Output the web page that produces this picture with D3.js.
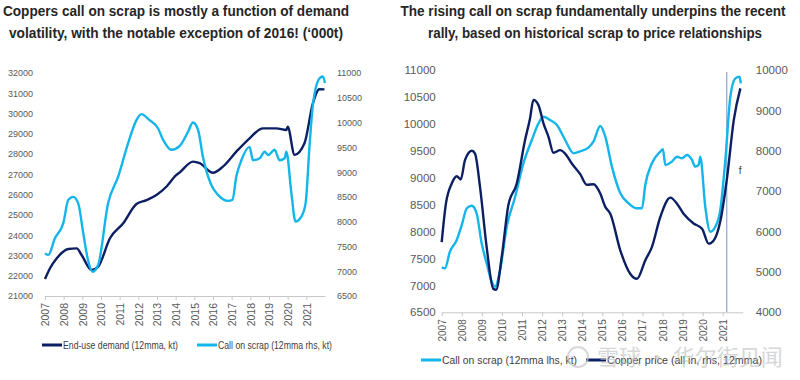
<!DOCTYPE html>
<html>
<head>
<meta charset="utf-8">
<script src="https://cdn.jsdelivr.net/npm/d3@7"></script>
<style>
  body { margin: 0; background: #fff; }
  svg { display: block; }
  .title { font-family: "Liberation Sans", Arial, sans-serif; font-weight: bold; font-size: 14.5px; fill: #262626; }
  .tick text { font-family: "Liberation Sans", Arial, sans-serif; fill: #595959; }
  .legend { font-family: "Liberation Sans", Arial, sans-serif; font-size: 10.5px; fill: #404040; }
</style>
</head>
<body>
<div id="chart"></div>
<script>
// ---- data ----
var years = [2007, 2008, 2009, 2010, 2011, 2012, 2013, 2014, 2015, 2016, 2017, 2018, 2019, 2020, 2021];

// left panel, end-use demand (kt, lhs)
var demandDates = [2007.0, 2007.27, 2007.63, 2008.25, 2008.7, 2008.96, 2009.5, 2009.85, 2010.48, 2011.19, 2011.9, 2012.44, 2012.97, 2013.5, 2014.04, 2014.22, 2014.93, 2015.29, 2016.0, 2016.53, 2017.25, 2017.96, 2018.67, 2019.39, 2019.93, 2020.0, 2020.37, 2020.9, 2021.35, 2021.7, 2021.97];
var demandKt = [21840, 22370, 22860, 23320, 23350, 23020, 22280, 22450, 23850, 24590, 25540, 25730, 25980, 26390, 26970, 27100, 27630, 27550, 27080, 27380, 28120, 28780, 29270, 29270, 29190, 29350, 27960, 28530, 30500, 31200, 31190];

// left panel, call on scrap (kt, rhs)
var scrapDatesL = [2007.0, 2007.18, 2007.53, 2007.98, 2008.25, 2008.51, 2008.78, 2009.05, 2009.3, 2009.55, 2009.85, 2010.38, 2010.92, 2011.45, 2011.9, 2012.16, 2012.6, 2013.06, 2013.33, 2013.77, 2014.22, 2014.67, 2014.93, 2015.2, 2015.46, 2015.91, 2016.27, 2016.8, 2017.04, 2017.25, 2017.52, 2017.96, 2018.14, 2018.5, 2018.77, 2018.95, 2019.3, 2019.57, 2019.84, 2019.93, 2020.2, 2020.42, 2020.73, 2020.96, 2021.18, 2021.35, 2021.7, 2021.88, 2022.0];
var scrapKtL = [7360, 7330, 7665, 7970, 8440, 8500, 8370, 7765, 7230, 6990, 7130, 8370, 8910, 9580, 10050, 10170, 10050, 9880, 9650, 9450, 9530, 9820, 10000, 9850, 9310, 8740, 8540, 8420, 8440, 8910, 9240, 9510, 9240, 9280, 9410, 9345, 9450, 9240, 9280, 9410, 8570, 8000, 8100, 8370, 9580, 10350, 10890, 10930, 10800];

// right panel, call on scrap (kt, lhs)
var scrapDatesR = [2007.0, 2007.16, 2007.41, 2007.75, 2008.0, 2008.25, 2008.5, 2008.74, 2008.99, 2009.24, 2009.49, 2009.66, 2009.91, 2010.24, 2010.66, 2011.07, 2011.49, 2011.82, 2012.07, 2012.4, 2012.74, 2013.15, 2013.57, 2013.9, 2014.31, 2014.56, 2014.9, 2015.15, 2015.48, 2015.9, 2016.31, 2016.73, 2016.98, 2017.14, 2017.47, 2017.89, 2018.02, 2018.14, 2018.47, 2018.72, 2018.97, 2019.22, 2019.47, 2019.63, 2019.8, 2019.88, 2020.13, 2020.38, 2020.63, 2020.88, 2021.13, 2021.38, 2021.63, 2021.84, 2021.9];
var scrapKtR = [7335, 7317, 7626, 7843, 8122, 8432, 8480, 8339, 7782, 7410, 7069, 6976, 7286, 8090, 8647, 9267, 9700, 10010, 10133, 10071, 9979, 9700, 9453, 9490, 9560, 9669, 9960, 9762, 9205, 8710, 8525, 8432, 8432, 8865, 9267, 9484, 9527, 9236, 9298, 9390, 9360, 9422, 9329, 9205, 9236, 9390, 8462, 7997, 8090, 8400, 9329, 10504, 10845, 10876, 10753];

// right panel, copper price (all in, rhs)
var priceDates = [2007.0, 2007.21, 2007.5, 2007.75, 2007.95, 2008.16, 2008.5, 2008.66, 2008.91, 2009.24, 2009.57, 2009.71, 2009.99, 2010.32, 2010.74, 2011.15, 2011.4, 2011.57, 2011.82, 2012.07, 2012.32, 2012.57, 2012.9, 2013.15, 2013.48, 2013.9, 2014.23, 2014.56, 2014.9, 2015.15, 2015.4, 2015.9, 2016.39, 2016.73, 2017.14, 2017.47, 2017.89, 2018.39, 2018.72, 2019.05, 2019.55, 2019.97, 2020.3, 2020.55, 2020.89, 2021.22, 2021.55, 2021.88];
var priceUsd = [5740, 6690, 7190, 7370, 7290, 7770, 8000, 7930, 7100, 5615, 4580, 4560, 5370, 6650, 7190, 8260, 8800, 9260, 9130, 8680, 8345, 7950, 8015, 7930, 7685, 7420, 7160, 7170, 6940, 6610, 6440, 5530, 4955, 4830, 5285, 5615, 6360, 6840, 6690, 6440, 6200, 6070, 5700, 5780, 6280, 7350, 8760, 9545];

var leftTicksL = [21000, 22000, 23000, 24000, 25000, 26000, 27000, 28000, 29000, 30000, 31000, 32000];
var rightTicksL = [6500, 7000, 7500, 8000, 8500, 9000, 9500, 10000, 10500, 11000];
var leftTicksR = [6500, 7000, 7500, 8000, 8500, 9000, 9500, 10000, 10500, 11000];
var rightTicksR = [4000, 5000, 6000, 7000, 8000, 9000, 10000];

var forecastStart = 2021.2;

var navy = "#0c1f63";
var cyan = "#13b5ea";

var svg = d3.select("#chart").append("svg")
    .attr("width", 800)
    .attr("height", 380);

function panel(p) {
  var x = d3.scaleLinear().domain([2007, 2022]).range([p.x0, p.x1]);
  var yl = d3.scaleLinear().domain(p.leftDomain).range([p.yBottom, p.yTop]);
  var yr = d3.scaleLinear().domain(p.rightDomain).range([p.yBottom, p.yTop]);

  // titles, squeezed to the narrow face of the original
  p.title.forEach(function(t, i) {
    svg.append("text")
      .attr("class", "title")
      .attr("x", p.titleX[i])
      .attr("y", 16 + i * 22)
      .attr("text-anchor", "middle")
      .attr("textLength", p.titleW[i])
      .attr("lengthAdjust", "spacingAndGlyphs")
      .text(t);
  });

  // left axis
  var gl = svg.append("g")
    .attr("transform", "translate(" + (p.x0 - p.leftPad) + ",0)")
    .call(d3.axisLeft(yl).tickValues(p.leftTicks).tickSize(0).tickFormat(d3.format("d")));
  gl.select(".domain").remove();
  gl.selectAll("text").attr("font-size", p.tickFont);

  // right axis
  var gr = svg.append("g")
    .attr("transform", "translate(" + (p.x1 + p.rightPad) + ",0)")
    .call(d3.axisRight(yr).tickValues(p.rightTicks).tickSize(0).tickFormat(d3.format("d")));
  gr.select(".domain").remove();
  gr.selectAll("text").attr("font-size", p.tickFont);

  // x axis
  var gx = svg.append("g")
    .attr("transform", "translate(0," + p.yBottom + ")")
    .call(d3.axisBottom(x).tickValues(years).tickSize(4).tickSizeOuter(0).tickFormat(d3.format("d")));
  gx.select(".domain").attr("stroke", "#c8c8c8");
  gx.selectAll(".tick line").attr("stroke", "#c8c8c8");
  gx.selectAll("text")
    .attr("font-size", p.yearFont)
    .attr("transform", "rotate(-90)")
    .attr("text-anchor", "end")
    .attr("x", -7)
    .attr("y", 0)
    .attr("dy", "0.35em");

  if (p.vline) {
    svg.append("line")
      .attr("x1", x(forecastStart)).attr("x2", x(forecastStart))
      .attr("y1", p.yTop + 2).attr("y2", p.yBottom)
      .attr("stroke", "#8fa6cf")
      .attr("stroke-width", 1.2);
    svg.append("text")
      .attr("x", x(forecastStart) + 12)
      .attr("y", 174)
      .attr("font-family", "Liberation Sans, Arial, sans-serif")
      .attr("font-size", "10px")
      .attr("fill", "#404040")
      .text("f");
  }

  // lines
  p.series.forEach(function(s) {
    var y = s.axis == "left" ? yl : yr;
    var line = d3.line()
      .x(function(d, i) { return x(s.dates[i]); })
      .y(function(d) { return y(d); })
      .curve(d3.curveMonotoneX);
    svg.append("path")
      .datum(s.values)
      .attr("fill", "none")
      .attr("stroke", s.color)
      .attr("stroke-width", 2.4)
      .attr("stroke-linejoin", "round")
      .attr("d", line);
  });

  // legend
  p.series.forEach(function(s) {
    svg.append("line")
      .attr("x1", s.legendX).attr("x2", s.legendX + 20)
      .attr("y1", p.legendY).attr("y2", p.legendY)
      .attr("stroke", s.color)
      .attr("stroke-width", 3);
    svg.append("text")
      .attr("class", "legend")
      .attr("x", s.legendX + 21)
      .attr("y", p.legendY)
      .attr("dy", "0.35em")
      .attr("textLength", s.legendW)
      .attr("lengthAdjust", "spacingAndGlyphs")
      .text(s.name);
  });
}

panel({
  x0: 45, x1: 325, yTop: 73, yBottom: 296,
  leftDomain: [21000, 32000], rightDomain: [6500, 11000],
  leftTicks: leftTicksL, rightTicks: rightTicksL,
  leftPad: 9, rightPad: 9,
  tickFont: "9px", yearFont: "10.5px",
  titleX: [176, 176], titleW: [346, 334],
  title: ["Coppers call on scrap is mostly a function of demand", "volatility, with the notable exception of 2016! (\u2018000t)"],
  legendY: 345,
  series: [
    {name: "End-use demand (12mma, kt)", dates: demandDates, values: demandKt, axis: "left", color: navy, legendX: 42, legendW: 115},
    {name: "Call on scrap (12mma rhs, kt)", dates: scrapDatesL, values: scrapKtL, axis: "right", color: cyan, legendX: 197, legendW: 114}
  ]
});

panel({
  x0: 441.7, x1: 742.8, yTop: 70, yBottom: 312.3,
  leftDomain: [6500, 11000], rightDomain: [4000, 10000],
  leftTicks: leftTicksR, rightTicks: rightTicksR,
  leftPad: 3, rightPad: 10,
  tickFont: "11.5px", yearFont: "10px",
  titleX: [593, 595], titleW: [385, 334],
  title: ["The rising call on scrap fundamentally underpins the recent", "rally, based on historical scrap to price relationships"],
  legendY: 360,
  vline: true,
  series: [
    {name: "Call on scrap (12mma lhs, kt)", dates: scrapDatesR, values: scrapKtR, axis: "left", color: cyan, legendX: 421, legendW: 135},
    {name: "Copper price (all in, rhs, 12mma)", dates: priceDates, values: priceUsd, axis: "right", color: navy, legendX: 586, legendW: 155}
  ]
});

// watermark
svg.append("circle")
  .attr("cx", 578).attr("cy", 357).attr("r", 10)
  .attr("fill", "none").attr("stroke", "#c8c8c8").attr("stroke-width", 2).attr("opacity", 0.7);
svg.append("text")
  .attr("x", 597).attr("y", 365)
  .attr("font-family", "Noto Sans CJK SC, sans-serif")
  .attr("font-size", "22px")
  .attr("fill", "#bdbdbd")
  .attr("opacity", 0.6)
  .text("雪球 · 华尔街见闻");
</script>
</body>
</html>
